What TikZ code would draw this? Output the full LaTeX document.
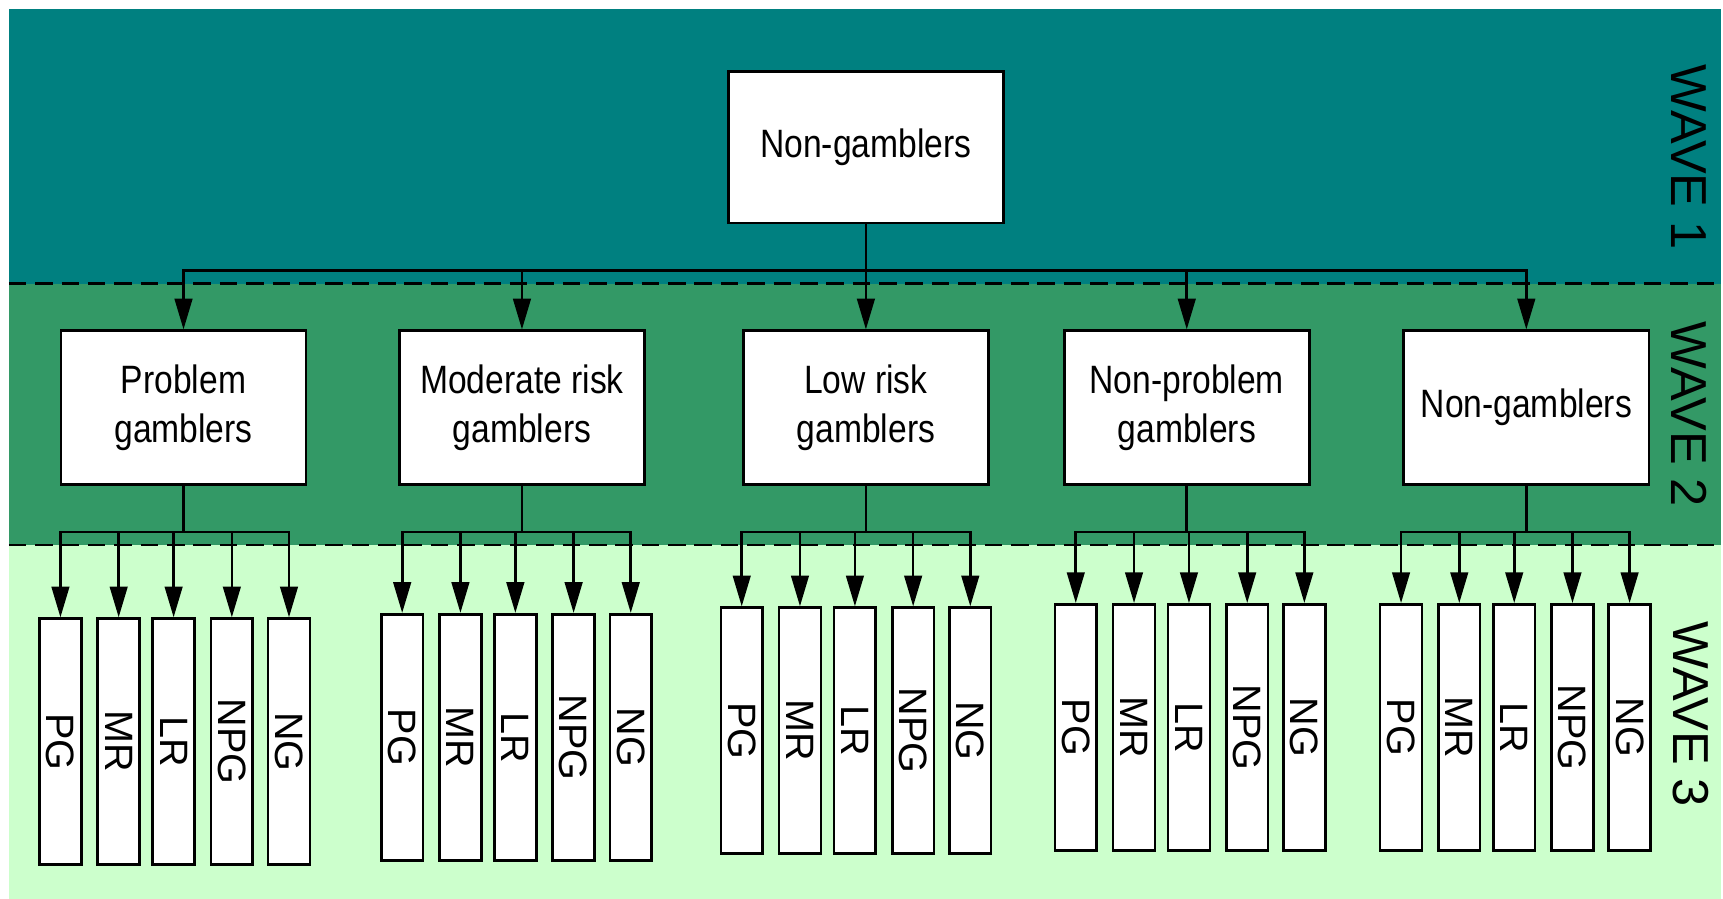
\documentclass[tikz,border=0pt]{standalone}
\usepackage{fontspec}
\setmainfont{Liberation Sans}
\newfontfamily\boxfont{Liberation Sans}[FakeStretch=0.85]
\usepackage{xcolor}
\definecolor{waveone}{HTML}{008080}
\definecolor{wavetwo}{HTML}{339966}
\definecolor{wavethree}{HTML}{CCFFCC}
\usepackage{tikz}
\usetikzlibrary{arrows.meta, positioning}

\begin{document}
\begin{tikzpicture}[x=0.5pt, y=-0.5pt,
    group/.style={draw=black, fill=white, line width=1.2pt, align=center,
      minimum width=111.5pt, minimum height=70pt, inner sep=0pt,
      font=\boxfont\fontsize{18}{22.5}\selectfont},
    sub/.style={draw=black, fill=white, line width=1.2pt, inner sep=0pt,
      minimum width=19pt, minimum height=112pt,
      font=\fontsize{18}{20}\selectfont},
    wave/.style={rotate=-90, font=\fontsize{23}{25}\selectfont},
    link/.style={line width=1.2pt, -{Triangle[length=14pt, width=8pt]}},
    divider/.style={line width=1.2pt, dash pattern=on 8pt off 4pt}]
  \useasboundingbox (0,0) rectangle (1568,818);

  % bands
  \fill[waveone]   (8,8)   rectangle (1566,258);
  \fill[wavetwo]   (8,258) rectangle (1566,496);
  \fill[wavethree] (8,496) rectangle (1566,818);
  \draw[divider] (8,258) -- (1566,258);
  \draw[divider] (8,496) -- (1566,496);

  \node[wave] (w1) at (1537,143) {WAVE 1};
  \node[wave] (w2) at (1537,377) {WAVE 2};
  \node[wave] (w3) at (1539,650) {WAVE 3};

  % wave 1
  \node[group, minimum width=125pt, minimum height=69pt] (root) at (788,134)
    {Non-gamblers};

  % wave 2
  \node[group] (prob)  at (167,371)  {Problem\\gamblers};
  \node[group] (mod)   at (475,371)  {Moderate risk\\gamblers};
  \node[group] (low)   at (788,371)  {Low risk\\gamblers};
  \node[group] (nprob) at (1080,371) {Non-problem\\gamblers};
  \node[group] (nong)  at (1389,371) {Non-gamblers};

  \foreach \n in {prob, mod, low, nprob, nong}
    \draw[link] (root.south) -- ++(0,42) -| (\n.north);

  % wave 3
  \foreach \p/\x/\y in {prob/55/675, mod/366/671, low/675/665,
                        nprob/979/662, nong/1275/662}{
    \foreach \lab/\dx in {PG/0, MR/53, LR/103, NPG/156, NG/208}{
      \node[sub] (\p-\lab) at (\x+\dx,\y) {\rotatebox{-90}{\lab}};
      \draw[link] (\p.south) -- ++(0,42) -| (\p-\lab.north);
    }
  }
\end{tikzpicture}
\end{document}
